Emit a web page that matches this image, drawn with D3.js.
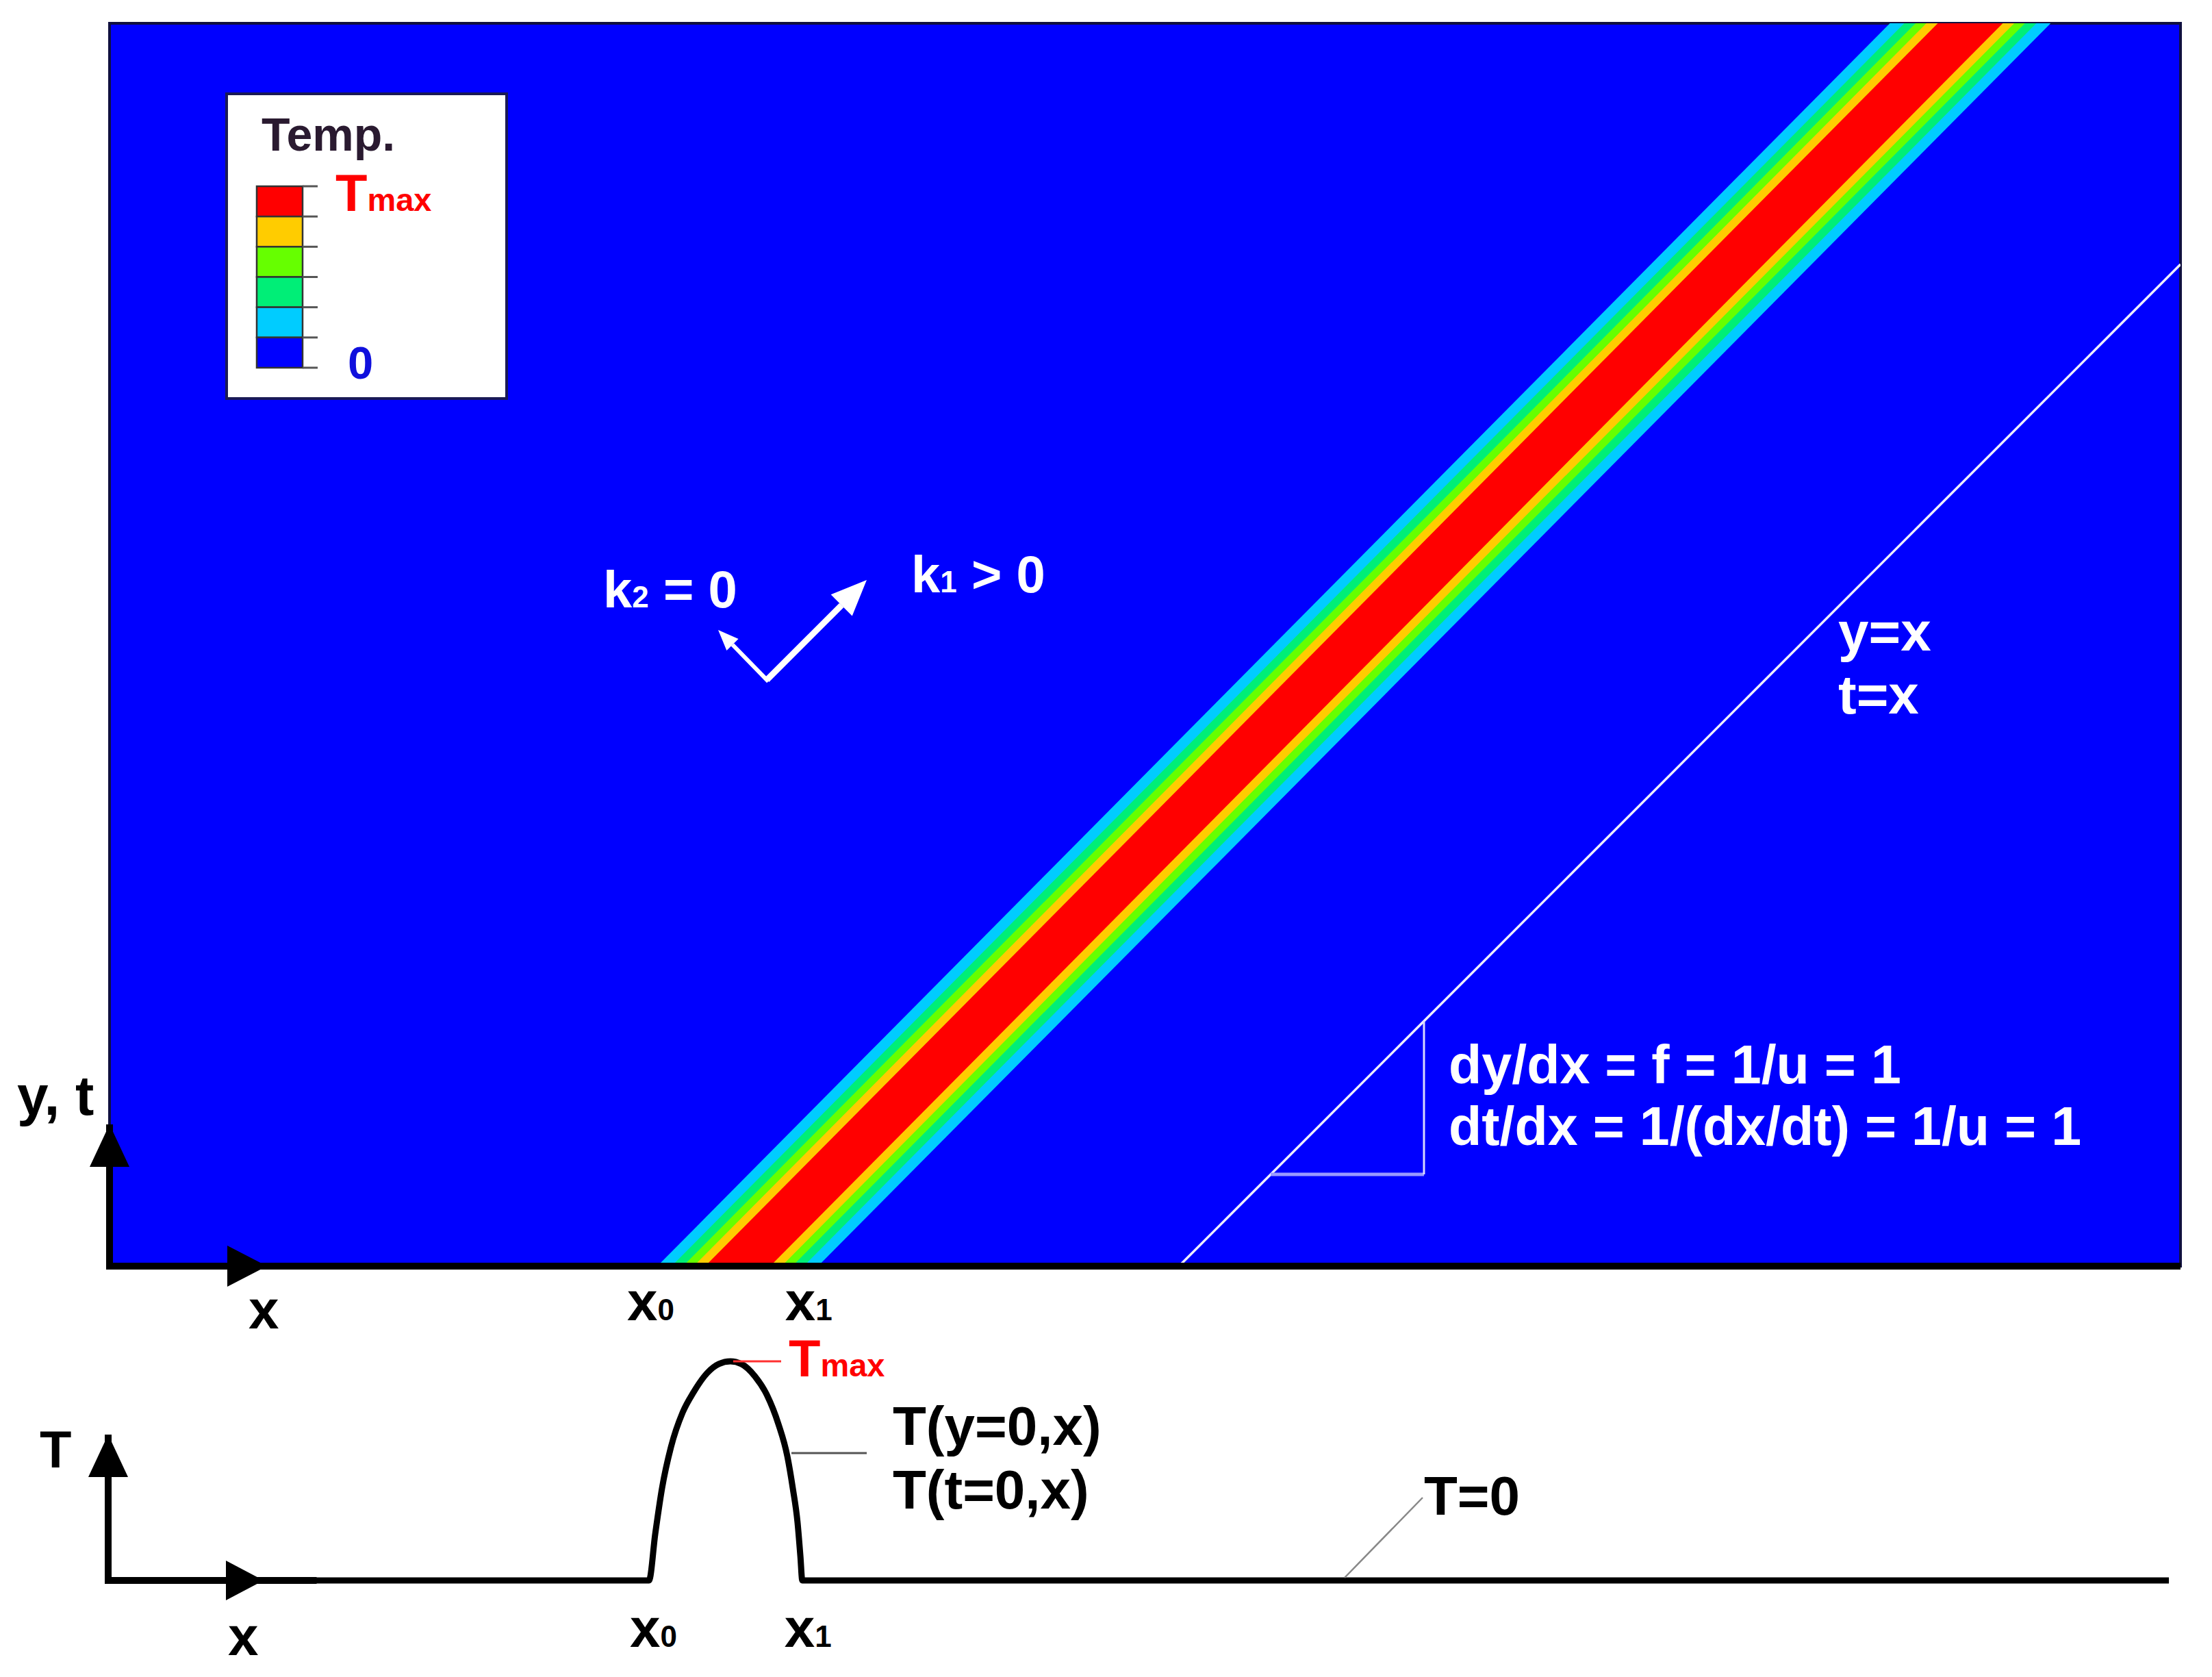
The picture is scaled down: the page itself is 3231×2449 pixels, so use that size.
<!DOCTYPE html>
<html><head><meta charset="utf-8">
<script src="https://cdn.jsdelivr.net/npm/d3@7"></script>
<style>
html,body{margin:0;padding:0;background:#fff;}
svg{display:block;}
text{font-family:"Liberation Sans",Arial,Helvetica,sans-serif;font-weight:bold;}
</style>
</head><body>
<svg id="chart" width="3231" height="2449"></svg>
<script>
// ---------------- data ----------------
const xDomain = [0, 10];          // x extent of the (y,t)-x plane
const yDomain = [0, 6];           // y / t extent
const tDomain = [0, 1];           // T / Tmax
// contour bands of the advected pulse, outer -> inner (level index 1..5)
const contourLevels = [1, 2, 3, 4, 5];
const bandHalfWidth = [0.388, 0.319, 0.264, 0.212, 0.157];
const bandCenterY = [0, 6];            // y where the band centre is read
const bandCenterX = [3.033, 8.985];    // band centre x at those y
// characteristic line y = x - charStart
const charStart = 5.164;
const charEnd = 10;
// slope triangle
const triX = [5.607, 6.347];
const triY = 0.443;
// initial profile T(y=0,x)
const profileX = [0, 2.605, 2.635, 2.668, 2.711, 2.767, 2.820, 2.886, 2.942, 2.998,
                  3.051, 3.117, 3.174, 3.230, 3.273, 3.299, 3.322, 3.336, 3.345, 9.944];
const profileT = [0, 0, 0.213, 0.422, 0.609, 0.766, 0.859, 0.947, 0.988, 1.0,
                  0.988, 0.931, 0.847, 0.713, 0.566, 0.422, 0.266, 0.109, 0, 0];
const x0Value = 2.605, x1Value = 3.345, peakX = 2.998;
// legend bins, top -> bottom
const legendBins = [5, 4, 3, 2, 1, 0];
// wave-vector arrows (data coords)
const kVertex = [3.174, 2.830];
const k1Tip = [3.656, 3.312];
const k2Tip = [2.939, 3.071];

// ---------------- scales ----------------
const svg = d3.select("#chart");
const x = d3.scaleLinear().domain(xDomain).range([160, 3185]);
const y = d3.scaleLinear().domain(yDomain).range([1849, 34]);
const tY = d3.scaleLinear().domain(tDomain).range([2308, 1988]);
const color = d3.scaleOrdinal().domain([0, 1, 2, 3, 4, 5])
  .range(["#0000ff", "#00ccff", "#00ee77", "#66ff00", "#ffcc00", "#ff0000"]);

function head(tip, from, len, hw) {
  const dx = tip[0] - from[0], dy = tip[1] - from[1];
  const L = Math.hypot(dx, dy), ux = dx / L, uy = dy / L;
  const bx = tip[0] - ux * len, by = tip[1] - uy * len;
  return {pts: [[tip[0], tip[1]], [bx - uy * hw, by + ux * hw], [bx + uy * hw, by - ux * hw]], base: [bx, by]};
}

// ---------------- top panel: temperature field ----------------
svg.append("defs").append("clipPath").attr("id", "plotclip")
  .append("rect").attr("x", x(0)).attr("y", y(6))
  .attr("width", x(10) - x(0)).attr("height", y(0) - y(6));

svg.append("rect").attr("x", x(0)).attr("y", y(6))
  .attr("width", x(10) - x(0)).attr("height", y(0) - y(6))
  .attr("fill", color(0)).attr("stroke", "#101040").attr("stroke-width", 4);

const band = svg.append("g").attr("clip-path", "url(#plotclip)");
band.selectAll("path").data(contourLevels).join("path")
  .attr("d", (lev, i) => {
    const h = bandHalfWidth[i];
    const s = (bandCenterX[1] - bandCenterX[0]) / (bandCenterY[1] - bandCenterY[0]);
    const ext = 0.2;
    const p = [[bandCenterX[0] - h - s * ext, bandCenterY[0] - ext], [bandCenterX[0] + h - s * ext, bandCenterY[0] - ext],
               [bandCenterX[1] + h + s * ext, bandCenterY[1] + ext], [bandCenterX[1] - h + s * ext, bandCenterY[1] + ext]];
    return d3.line().x(d => x(d[0])).y(d => y(d[1]))(p) + "Z";
  })
  .attr("fill", lev => color(lev));

// characteristic line
const ch = svg.append("g").attr("clip-path", "url(#plotclip)");
ch.append("path")
  .attr("d", d3.line().x(d => x(d[0])).y(d => y(d[1]))([[charStart, 0], [charEnd, charEnd - charStart]]))
  .attr("stroke", "#eeeeff").attr("stroke-width", 3.5).attr("fill", "none");
// slope triangle
ch.append("line").attr("x1", x(triX[0])).attr("x2", x(triX[1])).attr("y1", y(triY)).attr("y2", y(triY))
  .attr("stroke", "#9a9aff").attr("stroke-width", 5);
ch.append("line").attr("x1", x(triX[1])).attr("x2", x(triX[1])).attr("y1", y(triY)).attr("y2", y(triX[1] - charStart))
  .attr("stroke", "#d8d8ff").attr("stroke-width", 3);

// wave vector arrows
const vtx = [x(kVertex[0]), y(kVertex[1])];
const t1 = [x(k1Tip[0]), y(k1Tip[1])];
const t2 = [x(k2Tip[0]), y(k2Tip[1])];
const h1 = head(t1, vtx, 52, 22);
const h2 = head(t2, vtx, 30, 12);
svg.append("path").attr("d", d3.line()([h1.base, vtx, h2.base]))
  .attr("stroke", "#fff").attr("fill", "none").attr("stroke-width", 6).attr("stroke-linejoin", "miter");
svg.append("line").attr("x1", vtx[0]).attr("y1", vtx[1]).attr("x2", h1.base[0]).attr("y2", h1.base[1])
  .attr("stroke", "#fff").attr("stroke-width", 9);
svg.append("polygon").attr("points", h1.pts.map(p => p.join(",")).join(" ")).attr("fill", "#fff");
svg.append("polygon").attr("points", h2.pts.map(p => p.join(",")).join(" ")).attr("fill", "#fff");

// top axes
const X0 = x(0), Y0 = y(0);
svg.append("path").attr("d", `M${X0},1642 L${X0},${Y0} L${x(10)},${Y0}`)
  .attr("stroke", "#000").attr("stroke-width", 10).attr("fill", "none").attr("stroke-linejoin", "miter");
svg.append("polygon").attr("points", `${X0},1642 ${X0 - 29},1704 ${X0 + 29},1704`).attr("fill", "#000");
svg.append("polygon").attr("points", `390,${Y0} 332,${Y0 - 30} 332,${Y0 + 30}`).attr("fill", "#000");

// ---------------- legend ----------------
const lg = svg.append("g");
lg.append("rect").attr("x", 331).attr("y", 137).attr("width", 409).attr("height", 445)
  .attr("fill", "#fff").attr("stroke", "#1a1a55").attr("stroke-width", 4);
lg.append("text").attr("x", 382).attr("y", 220).attr("font-size", 68).attr("fill", "#2a1a30").text("Temp.");
const segH = (537 - 272) / legendBins.length;
lg.selectAll("rect.seg").data(legendBins).join("rect").attr("class", "seg")
  .attr("x", 375).attr("y", (d, i) => 272 + i * segH).attr("width", 67).attr("height", segH)
  .attr("fill", d => color(d)).attr("stroke", "#333").attr("stroke-width", 2.5);
lg.selectAll("line.tk").data(d3.range(legendBins.length + 1)).join("line").attr("class", "tk")
  .attr("x1", 442).attr("x2", 464).attr("y1", i => 272 + i * segH).attr("y2", i => 272 + i * segH)
  .attr("stroke", "#555").attr("stroke-width", 3);
const lt = lg.append("text").attr("x", 490).attr("y", 308).attr("fill", "#ff0000");
lt.append("tspan").attr("font-size", 76).text("T");
lt.append("tspan").attr("font-size", 47).text("max");
lg.append("text").attr("x", 508).attr("y", 553).attr("font-size", 67).attr("fill", "#1010dd").text("0");

// ---------------- texts in the field ----------------
function sub(g, px, py, parts, fill) {
  const t = g.append("text").attr("x", px).attr("y", py).attr("fill", fill);
  parts.forEach(p => t.append("tspan").attr("font-size", p[1]).text(p[0]));
  return t;
}
sub(svg, 881, 887, [["k", 76], ["2", 44], [" = 0", 76]], "#fff");
sub(svg, 1331, 865, [["k", 76], ["1", 44], [" > 0", 76]], "#fff");
sub(svg, 2685, 950, [["y=x", 80]], "#fff");
sub(svg, 2685, 1042, [["t=x", 80]], "#fff");
sub(svg, 2116, 1582, [["dy/dx = f = 1/u = 1", 79]], "#fff");
sub(svg, 2116, 1672, [["dt/dx = 1/(dx/dt) = 1/u = 1", 79]], "#fff");

// axis labels top
sub(svg, 25, 1628, [["y, t", 82]], "#000");
sub(svg, 363, 1940, [["x", 80]], "#000");
sub(svg, x(x0Value) - 32, 1928, [["x", 80], ["0", 44]], "#000");
sub(svg, x(x1Value) - 25, 1928, [["x", 80], ["1", 44]], "#000");

// ---------------- bottom panel: initial profile ----------------
const prof = profileX.map((v, i) => [v, profileT[i]]);
svg.append("path")
  .attr("d", d3.line().x(d => x(d[0])).y(d => tY(d[1])).curve(d3.curveMonotoneX)(prof))
  .attr("fill", "none").attr("stroke", "#000").attr("stroke-width", 9).attr("stroke-linejoin", "round");
const B0 = tY(0);
svg.append("path").attr("d", `M${X0 - 2},2095 L${X0 - 2},${B0} L${x(1)},${B0}`)
  .attr("stroke", "#000").attr("stroke-width", 10).attr("fill", "none");
svg.append("polygon").attr("points", `${X0 - 2},2095 ${X0 - 31},2157 ${X0 + 27},2157`).attr("fill", "#000");
svg.append("polygon").attr("points", `385,${B0} 330,${B0 - 29} 330,${B0 + 29}`).attr("fill", "#000");

sub(svg, 58, 2143, [["T", 76]], "#000");
sub(svg, 333, 2417, [["x", 80]], "#000");
sub(svg, x(x0Value) - 28, 2405, [["x", 80], ["0", 44]], "#000");
sub(svg, x(x1Value) - 26, 2405, [["x", 80], ["1", 44]], "#000");

// Tmax leader
svg.append("line").attr("x1", x(peakX) + 4).attr("x2", 1141).attr("y1", tY(1)).attr("y2", tY(1))
  .attr("stroke", "#ff3030").attr("stroke-width", 3);
sub(svg, 1152, 2010, [["T", 76], ["max", 47]], "#ff0000");
// profile leader
svg.append("line").attr("x1", 1156).attr("x2", 1266).attr("y1", 2122).attr("y2", 2122)
  .attr("stroke", "#555").attr("stroke-width", 3);
sub(svg, 1304, 2110, [["T(y=0,x)", 80]], "#000");
sub(svg, 1304, 2203, [["T(t=0,x)", 80]], "#000");
// T=0 leader
svg.append("line").attr("x1", 1964).attr("y1", B0 - 4).attr("x2", 2078).attr("y2", 2187)
  .attr("stroke", "#888").attr("stroke-width", 2.5);
sub(svg, 2080, 2212, [["T=0", 80]], "#000");
</script>
</body></html>
